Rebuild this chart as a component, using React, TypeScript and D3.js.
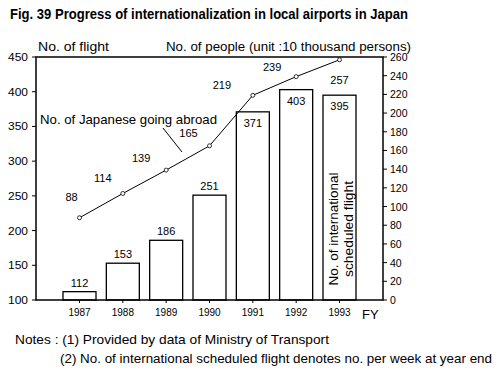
import React from "react";
import * as d3 from "d3";

const years = ["1987", "1988", "1989", "1990", "1991", "1992", "1993"];
const flights = [112, 153, 186, 251, 371, 403, 395];
const people = [88, 114, 139, 165, 219, 239, 257];
const leftTicks = [100, 150, 200, 250, 300, 350, 400, 450];
const rightTicks = [0, 20, 40, 60, 80, 100, 120, 140, 160, 180, 200, 220, 240, 260];

// label offsets for line values (layout only)
const peopleLabelDx = [-8, -20, -25, -21, -31, -24, 0];
const peopleLabelDy = [-17, -11, -8, -9, -6, -6, 24];

const W = 500, H = 370;
const left = 36, right = 383, top = 57, bottom = 300;
const font = "'Liberation Sans', Arial, sans-serif";

export default function App() {
  const x = d3.scalePoint<string>().domain(years).range([79.5, 339.5]);
  const yL = d3.scaleLinear().domain([100, 450]).range([bottom, top]);
  const yR = d3.scaleLinear().domain([0, 260]).range([bottom, top]);
  const barW = 33;
  const line = d3
    .line<number>()
    .x((_, i) => x(years[i]) as number)
    .y((d) => yR(d));

  return (
    <svg width={W} height={H} style={{ position: "absolute", left: 0, top: 0, background: "#fff" }} fontFamily={font}>
      <rect x={0} y={0} width={W} height={H} fill="#fff" />
      <text x={10} y={19} fontSize={14} fontWeight="bold" textLength={398} lengthAdjust="spacingAndGlyphs">
        Fig. 39 Progress of internationalization in local airports in Japan
      </text>
      <text x={38} y={51} fontSize={12.5} textLength={71} lengthAdjust="spacingAndGlyphs">No. of flight</text>
      <text x={166} y={51} fontSize={12.5} textLength={245} lengthAdjust="spacingAndGlyphs">
        No. of people (unit :10 thousand persons)
      </text>

      {/* bars */}
      {flights.map((v, i) => {
        const cx = x(years[i]) as number;
        return (
          <g key={years[i]}>
            <rect x={cx - barW / 2} y={yL(v)} width={barW} height={bottom - yL(v)} fill="#fff" stroke="#000" strokeWidth={1.3} />
            <text
              x={cx}
              y={i < 4 ? yL(v) - 5 : yL(v) + 15}
              fontSize={11}
              textAnchor="middle"
            >
              {v}
            </text>
          </g>
        );
      })}

      {/* frame */}
      <rect x={left} y={top} width={right - left} height={bottom - top} fill="none" stroke="#000" strokeWidth={1.5} />

      {/* left ticks */}
      {leftTicks.map((t) => (
        <g key={"l" + t}>
          <line x1={left - 4} x2={left} y1={yL(t)} y2={yL(t)} stroke="#000" strokeWidth={1} />
          <text x={28} y={yL(t) + 4} fontSize={10.5} textAnchor="end" textLength={20} lengthAdjust="spacingAndGlyphs">{t}</text>
        </g>
      ))}
      {/* right ticks */}
      {rightTicks.map((t) => (
        <g key={"r" + t}>
          <line x1={right} x2={right + 4} y1={yR(t)} y2={yR(t)} stroke="#000" strokeWidth={1} />
          <text x={390} y={yR(t) + 4} fontSize={10.5}>{t}</text>
        </g>
      ))}
      {/* x ticks and labels */}
      {years.map((yr) => (
        <g key={"x" + yr}>
          <line x1={x(yr) as number} x2={x(yr) as number} y1={bottom} y2={bottom + 3} stroke="#000" strokeWidth={1} />
          <text x={x(yr) as number} y={316} fontSize={10} textAnchor="middle">{yr}</text>
        </g>
      ))}
      <text x={362} y={319} fontSize={13}>FY</text>

      {/* line */}
      <path d={line(people) as string} fill="none" stroke="#000" strokeWidth={1} />
      {people.map((v, i) => {
        const cx = x(years[i]) as number;
        return (
          <g key={"p" + i}>
            <circle cx={cx} cy={yR(v)} r={2} fill="#fff" stroke="#000" strokeWidth={0.8} />
            <text x={cx + peopleLabelDx[i]} y={yR(v) + peopleLabelDy[i]} fontSize={11} textAnchor="middle">{v}</text>
          </g>
        );
      })}

      {/* annotation */}
      <text x={40} y={124} fontSize={13} textLength={177} lengthAdjust="spacingAndGlyphs">No. of Japanese going abroad</text>
      <line x1={163} y1={128} x2={182} y2={152} stroke="#000" strokeWidth={1} />

      {/* vertical label in 1993 bar */}
      <g transform={`translate(${(x("1993") as number) - 2}, 229) rotate(-90)`}>
        <text x={0} y={0} fontSize={12.5} textAnchor="middle" textLength={113} lengthAdjust="spacingAndGlyphs">No. of international</text>
        <text x={0} y={15} fontSize={12.5} textAnchor="middle" textLength={96} lengthAdjust="spacingAndGlyphs">scheduled flight</text>
      </g>

      {/* notes */}
      <text x={15} y={344} fontSize={13} textLength={314} lengthAdjust="spacingAndGlyphs">
        Notes : (1) Provided by data of Ministry of Transport
      </text>
      <text x={60} y={363} fontSize={13} textLength={432} lengthAdjust="spacingAndGlyphs">
        (2) No. of international scheduled flight denotes no. per week at year end
      </text>
    </svg>
  );
}
